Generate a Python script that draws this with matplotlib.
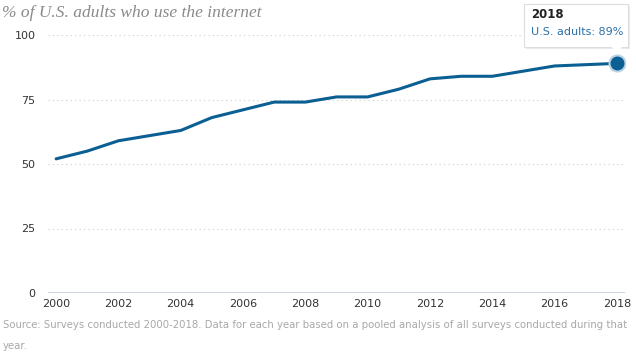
import matplotlib
matplotlib.use('Agg')
import matplotlib.pyplot as plt
from matplotlib.patches import FancyBboxPatch, Polygon

years = list(range(2000, 2019))
share = [52, 55, 59, 61, 63, 68, 71, 74, 74, 76, 76, 79, 83, 84, 84, 86, 88, 88.5, 89]
y_ticks = [0, 25, 50, 75, 100]
x_ticks = list(range(2000, 2019, 2))

W, H = 636, 354
fig = plt.figure(figsize=(W / 100, H / 100), dpi=100)
ax = fig.add_axes([48 / W, 1 - 293 / H, (625 - 48) / W, (293 - 35) / H])

line_col = '#0b5f93'
ax.plot(years, share, color=line_col, lw=2.2, solid_capstyle='round', zorder=3)
ax.plot(years[-1], share[-1], 'o', ms=12, color='#b9d3e4', zorder=4)
ax.plot(years[-1], share[-1], 'o', ms=9, color=line_col, zorder=5)

ax.set_xlim(1999.74, 2018.26)
ax.set_ylim(0, 100)
ax.set_yticks(y_ticks)
ax.set_xticks(x_ticks)
for s in ax.spines.values():
    s.set_visible(False)
for y in y_ticks[1:]:
    ax.axhline(y, color='#cccccc', lw=0.8, ls=(0, (1, 3)), zorder=1)
ax.axhline(0, color='#c2c9de', lw=1.2, zorder=1)
ax.tick_params(length=0, labelsize=8, colors='#333333')
ax.tick_params(axis='y', pad=9)
ax.tick_params(axis='x', pad=4)

fig.text(2 / W, 1 - 13 / H, '% of U.S. adults who use the internet',
         family='Liberation Serif', style='italic', fontsize=12.5,
         color='#8a8a8a', va='center')
fig.text(3 / W, 1 - 325 / H,
         'Source: Surveys conducted 2000-2018. Data for each year based on a pooled '
         'analysis of all surveys conducted during that',
         fontsize=7.25, color='#a8a8a8', va='center')
fig.text(3 / W, 1 - 346 / H, 'year.', fontsize=7.25, color='#a8a8a8', va='center')

# tooltip
bx0, by0, bx1, by1 = 524, 4, 628, 47
for off, a in [(2, 0.08), (1, 0.12)]:
    fig.patches.append(FancyBboxPatch(((bx0 + off) / W, 1 - (by1 + off) / H),
                                      (bx1 - bx0) / W, (by1 - by0) / H,
                                      boxstyle='square,pad=0', transform=fig.transFigure,
                                      fc='black', ec='none', alpha=a, zorder=9))
fig.patches.append(FancyBboxPatch((bx0 / W, 1 - by1 / H), (bx1 - bx0) / W, (by1 - by0) / H,
                                  boxstyle='square,pad=0', transform=fig.transFigure,
                                  fc='white', ec='#dddddd', lw=0.8, zorder=10))
fig.patches.append(Polygon([(611 / W, 1 - (by1 - 1) / H), (623 / W, 1 - (by1 - 1) / H),
                            (617 / W, 1 - (by1 + 6) / H)], closed=True,
                           transform=fig.transFigure, fc='white', ec='none', zorder=11))
fig.text(531 / W, 1 - 15 / H, '2018', fontsize=8.5, weight='bold', color='#222222',
         va='center', zorder=12)
fig.text(531 / W, 1 - 32 / H, 'U.S. adults: 89%', fontsize=8, color='#2a6fa8',
         va='center', zorder=12)

fig.savefig('out.png', dpi=100)
